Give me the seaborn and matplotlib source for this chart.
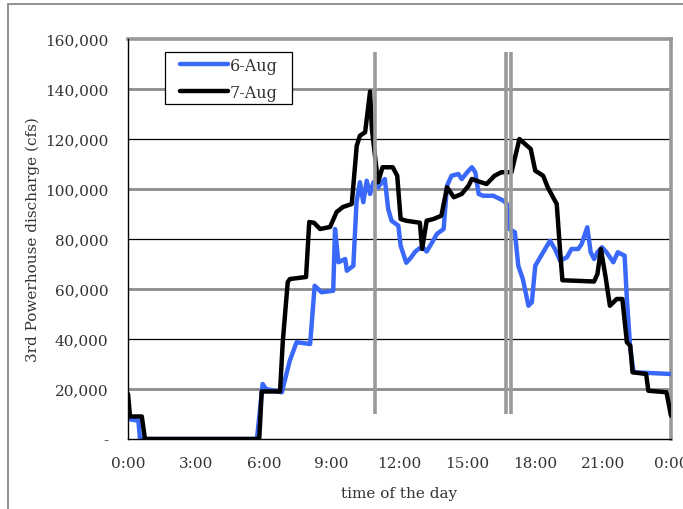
import matplotlib
matplotlib.use("Agg")
import matplotlib.pyplot as plt
import matplotlib.patches as mpatches
from matplotlib.lines import Line2D
import numpy as np
import pandas as pd
import seaborn as sns

# ---- data (hours of day, discharge in cfs) ----
aug6_hours = [0.0, 0.46, 0.53, 5.70, 5.95, 6.10, 6.80, 7.15, 7.45, 8.05, 8.25, 8.55, 9.07,
              9.15, 9.30, 9.60, 9.67, 9.96, 10.10, 10.25, 10.40, 10.55, 10.70, 10.85, 11.05,
              11.35, 11.50, 11.65, 11.95, 12.05, 12.30, 12.50, 12.70, 13.00, 13.20, 13.40,
              13.65, 13.95, 14.10, 14.30, 14.60, 14.75, 15.05, 15.20, 15.35, 15.50, 15.70,
              16.15, 16.60, 16.75, 16.85, 17.10, 17.25, 17.45, 17.70, 17.85, 18.00, 18.35,
              18.65, 18.87, 19.10, 19.40, 19.60, 19.90, 20.05, 20.30, 20.45, 20.60, 20.75,
              20.95, 21.15, 21.45, 21.65, 21.95, 22.05, 22.20, 22.35, 24.00]
aug6_cfs = [8000, 7300, 0, 0, 22000, 20000, 18700, 31300, 38700, 38000, 61300, 58700, 59300,
            84000, 70700, 72000, 67300, 69300, 94700, 102700, 94700, 103300, 98000, 102700, 100700,
            104000, 92000, 87300, 85300, 77300, 70500, 72500, 75000, 77000, 75000, 78000,
            82000, 84000, 101300, 105300, 106000, 104000, 107300, 108700, 106700, 98000, 97300,
            97300, 95300, 94000, 84000, 82700, 69300, 64000, 53300, 54700, 69300, 74700,
            79300, 76000, 71300, 72700, 76000, 76000, 78000, 84700, 74700, 72000, 74700,
            76700, 74700, 70700, 74700, 73300, 56000, 36000, 26700, 26000]

aug7_hours = [0.0, 0.09, 0.61, 0.75, 5.80, 5.91, 6.72, 6.84, 7.06, 7.16, 7.87, 8.01, 8.22,
              8.49, 8.93, 9.22, 9.50, 9.89, 10.11, 10.25, 10.48, 10.70, 10.78, 11.05,
              11.25, 11.70, 11.90, 12.05, 12.30, 12.90, 13.00, 13.20, 13.50, 13.85, 14.10,
              14.40, 14.75, 15.05, 15.20, 15.40, 15.85, 16.20, 16.50, 16.95, 17.30, 17.55,
              17.80, 18.00, 18.35, 18.55, 18.75, 18.95, 19.10, 19.20, 20.60, 20.75, 20.90,
              21.10, 21.30, 21.60, 21.85, 22.05, 22.20, 22.30, 22.90, 23.00, 23.80, 24.00]
aug7_cfs = [18000, 9000, 9000, 0, 0, 19000, 19000, 38800, 62800, 64000, 64800, 86800, 86500,
            84000, 84800, 90800, 92800, 94000, 117300, 121300, 122700, 139000, 124000, 102700,
            108700, 108700, 105300, 88000, 87300, 86500, 76000, 87300, 88000, 89300, 100700,
            96700, 98000, 101300, 104000, 103300, 102000, 105300, 106700, 106700, 120000, 118000,
            116000, 107300, 105300, 100700, 97300, 94000, 75000, 63500, 63000, 66000, 76000,
            65300, 53300, 56000, 56000, 38700, 37300, 26700, 26000, 19300, 18700, 9300]

series_names = ["6-Aug", "7-Aug"]
event_hours = [10.92, 16.69, 16.93]
event_range = [10000, 155000]

x_ticks = [0, 3, 6, 9, 12, 15, 18, 21, 24]
x_tick_labels = ["0:00", "3:00", "6:00", "9:00", "12:00", "15:00", "18:00", "21:00", "0:00"]
y_ticks = [0, 20000, 40000, 60000, 80000, 100000, 120000, 140000, 160000]
y_tick_labels = ["-", "20,000", "40,000", "60,000", "80,000", "100,000", "120,000", "140,000", "160,000"]

df = pd.concat([
    pd.DataFrame({"hour": aug6_hours, "cfs": aug6_cfs, "day": series_names[0]}),
    pd.DataFrame({"hour": aug7_hours, "cfs": aug7_cfs, "day": series_names[1]}),
], ignore_index=True)

sns.set_style("white")
plt.rcParams["font.family"] = ["DejaVu Serif"]

palette = {"6-Aug": "#3a68f8", "7-Aug": "#000000"}
text_color = "#333333"

fig = plt.figure(figsize=(6.83, 5.10), dpi=100)
ax = fig.add_axes([128 / 683, 1 - 440 / 510, 543 / 683, 400 / 510])

# gridlines (alternating styles as in reference)
for i, yv in enumerate(y_ticks[1:-1], start=1):
    if i % 2 == 1:
        ax.axhline(yv, color="#8c8c8c", lw=2.0, zorder=0)
    else:
        ax.axhline(yv, color="#000000", lw=0.9, zorder=0)

sns.lineplot(data=df, x="hour", y="cfs", hue="day", palette=palette, hue_order=series_names,
             estimator=None, sort=False, lw=3.2, ax=ax, legend=False, zorder=3)

ax.vlines(event_hours, event_range[0], event_range[1], colors="#9a9a9a", lw=2.6, zorder=4)

ax.set_xlim(0, 24)
ax.set_ylim(0, 160000)
ax.set_xticks(x_ticks)
ax.set_xticklabels(x_tick_labels)
ax.set_yticks(y_ticks)
ax.set_yticklabels(y_tick_labels)
ax.tick_params(axis="both", direction="out", length=4, width=0.9, color="black",
               labelsize=11, labelcolor=text_color)
ax.tick_params(axis="y", pad=10)
ax.tick_params(axis="x", pad=8)
ax.grid(False)

for side in ["top", "right"]:
    ax.spines[side].set_color("#999999")
    ax.spines[side].set_linewidth(2.6)
for side in ["left", "bottom"]:
    ax.spines[side].set_color("#000000")
    ax.spines[side].set_linewidth(1.0)
    ax.spines[side].set_zorder(5)

ax.set_xlabel("time of the day", fontsize=11, color=text_color, labelpad=12)
ax.set_ylabel("3rd Powerhouse discharge (cfs)", fontsize=11, color=text_color, labelpad=4)

# legend frame drawn as a box, legend content placed inside it
ax.add_patch(mpatches.Rectangle((37 / 543, 335 / 400), 127 / 543, 52 / 400,
                                transform=ax.transAxes, facecolor="white",
                                edgecolor="black", lw=0.9, zorder=6))
handles = [Line2D([0], [0], color=palette[n], lw=3.2, solid_capstyle="round") for n in series_names]
leg = ax.legend(handles, series_names, loc="upper left", bbox_to_anchor=(52 / 543, 382 / 400),
                borderaxespad=0, frameon=False, fontsize=11.5, handlelength=3.0,
                handletextpad=0.12, labelspacing=0.6, borderpad=0.0)
for t in leg.get_texts():
    t.set_color(text_color)
leg.set_zorder(7)

# outer chart-area border (left and top edges visible)
fig.patches.append(mpatches.Rectangle((8 / 683, -0.2), 1.5, 1.2 - 5 / 510,
                                      transform=fig.transFigure, fill=False,
                                      edgecolor="#888888", lw=1.3))

fig.savefig("out.png", dpi=100)
